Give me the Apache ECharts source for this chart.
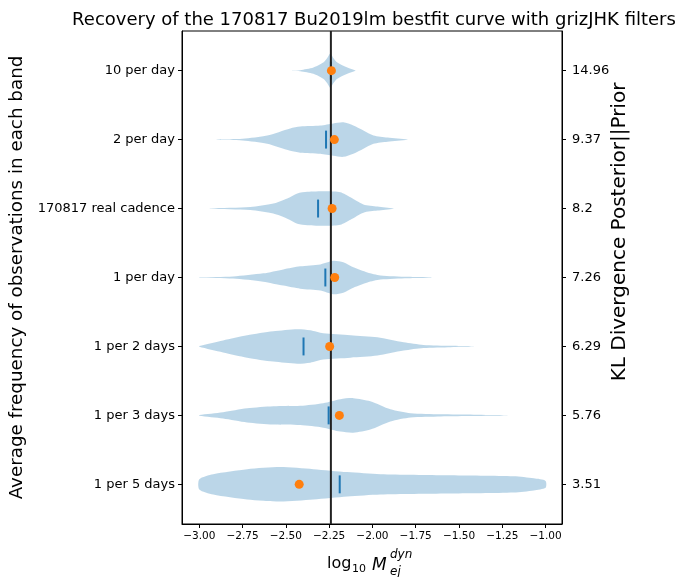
<!DOCTYPE html>
<html>
<head>
<meta charset="utf-8">
<script src="https://cdn.jsdelivr.net/npm/echarts@6/dist/echarts.min.js"></script>
<style>
  html, body { margin: 0; padding: 0; background: #fff; }
  #chart { width: 679px; height: 577px; }
</style>
</head>
<body>
<div id="chart"></div>
<script>
// categories, bottom -> top (y position = index)
const cadences = ['1 per 5 days', '1 per 3 days', '1 per 2 days', '1 per day',
  '170817 real cadence', '2 per day', '10 per day'];
const klValues = ['3.51', '5.76', '6.29', '7.26', '8.2', '9.37', '14.96'];

// violin outlines: log10 Mej grid and relative half-width (1 = widest)
const per5X = [-3.0, -2.92, -2.724, -2.533, -2.341, -2.145, -1.954, -1.566, -1.183, -1.068, -1.0];
const per5W = [0.3, 0.59, 0.88, 1.0, 0.88, 0.71, 0.59, 0.53, 0.47, 0.35, 0.2];
const per3X = [-3.0, -2.863, -2.724, -2.573, -2.417, -2.284, -2.185, -2.11, -2.012, -1.896, -1.78, -1.606, -1.415, -1.22];
const per3W = [0.02, 0.18, 0.41, 0.53, 0.56, 0.71, 0.94, 1.0, 0.82, 0.35, 0.12, 0.06, 0.04, 0.01];
const per2X = [-3.0, -2.863, -2.724, -2.573, -2.434, -2.359, -2.284, -2.127, -1.971, -1.82, -1.705, -1.548, -1.415];
const per2W = [0.02, 0.35, 0.65, 0.88, 1.0, 0.94, 0.76, 0.65, 0.53, 0.24, 0.09, 0.04, 0.01];
const per1X = [-3.0, -2.805, -2.631, -2.515, -2.417, -2.301, -2.226, -2.168, -2.11, -2.029, -1.954, -1.797, -1.66];
const per1W = [0.01, 0.06, 0.24, 0.47, 0.65, 0.76, 0.97, 0.88, 0.59, 0.29, 0.12, 0.04, 0.01];
const realX = [-2.94, -2.706, -2.573, -2.492, -2.434, -2.376, -2.26, -2.185, -2.127, -2.052, -1.971, -1.878];
const realW = [0.01, 0.09, 0.29, 0.59, 0.88, 0.97, 1.0, 0.94, 0.65, 0.24, 0.12, 0.01];
const day2X = [-2.9, -2.75, -2.608, -2.475, -2.417, -2.301, -2.226, -2.168, -2.11, -2.052, -1.994, -1.913, -1.797];
const day2W = [0.01, 0.05, 0.24, 0.65, 0.76, 0.82, 0.94, 1.0, 0.82, 0.53, 0.24, 0.12, 0.01];
const day10X = [-2.465, -2.417, -2.341, -2.284, -2.262, -2.243, -2.225, -2.203, -2.145, -2.098];
const day10W = [0.01, 0.03, 0.18, 0.47, 0.72, 1.0, 0.72, 0.47, 0.18, 0.01];

const violinX = [per5X, per3X, per2X, per1X, realX, day2X, day10X];
const violinW = [per5W, per3W, per2W, per1W, realW, day2W, day10W];

const medians = [-2.189, -2.253, -2.398, -2.272, -2.314, -2.268, -2.24];
const bestfit = [-2.423, -2.191, -2.247, -2.218, -2.233, -2.22, -2.237];
const injected = -2.24;

const xTicks = [-3.0, -2.75, -2.5, -2.25, -2.0, -1.75, -1.5, -1.25, -1.0];
const yTicks = [0, 1, 2, 3, 4, 5, 6];

const halfWidth = 0.25;   // widest violin half-width in category units
const medianHalf = 0.13;
const font = 'DejaVu Sans';

const chart = echarts.init(document.getElementById('chart'));

function renderViolin(params, api) {
  const i = params.dataIndex;
  const pos = api.value(0);
  const xs = violinX[i], ws = violinW[i];
  const top = [], bot = [];
  for (let k = 0; k < xs.length; k++) {
    top.push(api.coord([xs[k], pos + ws[k] * halfWidth]));
    bot.push(api.coord([xs[k], pos - ws[k] * halfWidth]));
  }
  return {
    type: 'polygon',
    shape: { points: top.concat(bot.reverse()), smooth: 0.25 },
    style: { fill: 'rgba(31,119,180,0.3)', stroke: null }
  };
}

function renderMedian(params, api) {
  const a = api.coord([api.value(0), api.value(1) - medianHalf]);
  const b = api.coord([api.value(0), api.value(1) + medianHalf]);
  return {
    type: 'line',
    shape: { x1: a[0], y1: a[1], x2: b[0], y2: b[1] },
    style: { stroke: '#1f77b4', lineWidth: 2 }
  };
}

const yRange = { min: -0.575, max: 6.575 };

const option = {
  animation: false,
  backgroundColor: '#fff',
  title: {
    text: 'Recovery of the 170817 Bu2019lm bestfit curve with grizJHK filters',
    left: 369, textAlign: 'center', top: 6,
    textStyle: { fontFamily: font, fontSize: 18, fontWeight: 'normal', color: '#000' }
  },
  grid: {
    left: 182, right: 117, top: 31, bottom: 53,
    outerBoundsMode: 'none', containLabel: false,
    show: true, borderColor: '#000', borderWidth: 1, backgroundColor: 'transparent'
  },
  xAxis: {
    type: 'value', min: -3.1, max: -0.905,
    axisLine: { show: true, onZero: false, lineStyle: { color: '#000' } },
    axisTick: { show: true, length: 4, lineStyle: { color: '#000' }, customValues: xTicks },
    axisLabel: {
      customValues: xTicks, margin: 7, fontFamily: font, fontSize: 10.5, color: '#000',
      formatter: v => v.toFixed(2).replace('-', '\u2212')
    },
    splitLine: { show: false }
  },
  yAxis: [{
    type: 'value', position: 'left', min: yRange.min, max: yRange.max,
    name: 'Average frequency of observations in each band',
    nameLocation: 'middle', nameRotate: 90, nameGap: 156,
    nameTextStyle: { fontFamily: font, fontSize: 18.3, color: '#000' },
    axisLine: { show: true, onZero: false, lineStyle: { color: '#000' } },
    axisTick: { show: true, length: 4, lineStyle: { color: '#000' }, customValues: yTicks },
    axisLabel: {
      customValues: yTicks, margin: 7, fontFamily: font, fontSize: 13, color: '#000',
      formatter: v => cadences[Math.round(v)]
    },
    splitLine: { show: false }
  }, {
    type: 'value', position: 'right', min: yRange.min, max: yRange.max,
    axisLine: { show: true, onZero: false, lineStyle: { color: '#000' } },
    axisTick: { show: true, length: 4, lineStyle: { color: '#000' }, customValues: yTicks },
    axisLabel: {
      customValues: yTicks, margin: 10, fontFamily: font, fontSize: 13, color: '#000',
      formatter: v => klValues[Math.round(v)]
    },
    splitLine: { show: false }
  }],
  graphic: [
    { type: 'text', x: 620, y: 232, rotation: Math.PI / 2,
      style: { text: 'KL Divergence Posterior||Prior', font: '20px "DejaVu Sans"', fill: '#000',
        align: 'center', verticalAlign: 'middle' } },
    { type: 'text', left: 327, top: 556, style: { text: 'log', font: '16px "DejaVu Sans"', fill: '#000' } },
    { type: 'text', left: 352, top: 564, style: { text: '10', font: '11px "DejaVu Sans"', fill: '#000' } },
    { type: 'text', left: 372, top: 557, style: { text: 'M', font: 'italic 17px "DejaVu Sans"', fill: '#000' } },
    { type: 'text', left: 390, top: 549, style: { text: 'dyn', font: 'italic 12px "DejaVu Sans"', fill: '#000' } },
    { type: 'text', left: 390, top: 566, style: { text: 'ej', font: 'italic 12px "DejaVu Sans"', fill: '#000' } }
  ],
  series: [{
    type: 'custom', name: 'violins', z: 1,
    renderItem: renderViolin,
    data: yTicks.map(p => [p]),
    encode: { y: 0 }
  }, {
    type: 'custom', name: 'median', z: 2,
    renderItem: renderMedian,
    data: medians.map((m, i) => [m, yTicks[i]]),
    encode: { x: 0, y: 1 }
  }, {
    type: 'line', name: 'injected', z: 3, symbol: 'none',
    data: [[injected, yRange.min], [injected, yRange.max]],
    lineStyle: { color: '#222', width: 2 }
  }, {
    type: 'scatter', name: 'bestfit', z: 4,
    symbolSize: 9,
    itemStyle: { color: '#ff7f0e', opacity: 1 },
    data: bestfit.map((b, i) => [b, yTicks[i]])
  }]
};

chart.setOption(option);
</script>
</body>
</html>
